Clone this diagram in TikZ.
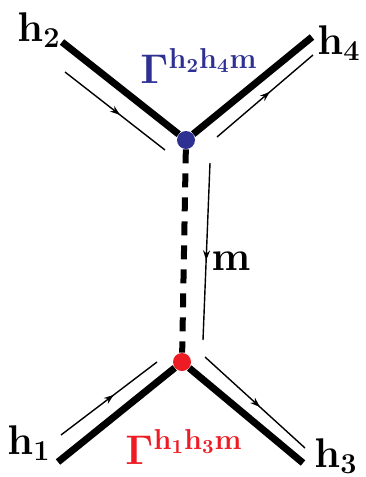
\documentclass[tikz,border=0pt]{standalone}
\usetikzlibrary{decorations.markings, arrows.meta}
\definecolor{vtxblue}{RGB}{46,49,146}
\definecolor{vtxred}{RGB}{237,28,36}
\tikzset{
% Vertex
vtx/.style={
	circle, inner sep=0pt, minimum size=9pt,
},
% External leg
leg/.style={
	line width=3.5pt,
},
% Exchanged particle
propagator/.style={
	line width=3pt, dash pattern=on 7pt off 5pt,
},
% Momentum flow
flow/.style={
	line width=0.7pt, postaction=decorate,
	decoration={markings, mark=at position 0.55 with {\arrow{Stealth[length=5pt, width=3.5pt]}}},
},
% Label
lbl/.style={
	font=\fontsize{20}{24}\selectfont, inner sep=0pt,
},
}
\begin{document}
\begin{tikzpicture}[x=0.5pt, y=-0.5pt]
		\useasboundingbox (0,0) rectangle (365,477);

		% Vertices
		\node[vtx, fill=vtxblue] (top) at (186,140) {};
		\node[vtx, fill=vtxred]  (bot) at (182,362) {};

		% Leg ends
		\coordinate (h2) at (62,42);
		\coordinate (h4) at (312,37);
		\coordinate (h1) at (58,462);
		\coordinate (h3) at (303,463);

		% Legs
		\draw[leg] (h2) -- (top);
		\draw[leg] (top) -- (h4);
		\draw[leg] (h1) -- (bot);
		\draw[leg] (bot) -- (h3);
		\draw[propagator] (top) -- (bot);

		% Flow arrows
		\coordinate (f2s) at (65,72);   \coordinate (f2e) at (165,150);
		\coordinate (f4s) at (217,137); \coordinate (f4e) at (313,55);
		\coordinate (fms) at (210,163); \coordinate (fme) at (203,340);
		\coordinate (f1s) at (61,435);  \coordinate (f1e) at (157,362);
		\coordinate (f3s) at (205,357); \coordinate (f3e) at (305,448);
		\draw[flow] (f2s) -- (f2e);
		\draw[flow] (f4s) -- (f4e);
		\draw[flow] (fms) -- (fme);
		\draw[flow] (f1s) -- (f1e);
		\draw[flow] (f3s) -- (f3e);

		% Labels
		\node[lbl] (lh2) at (39,30) {$\mathbf{h_2}$};
		\node[lbl] (lh4) at (339,43) {$\mathbf{h_4}$};
		\node[lbl] (lh1) at (29,443) {$\mathbf{h_1}$};
		\node[lbl] (lh3) at (336,456) {$\mathbf{h_3}$};
		\node[lbl] (lm) at (231,261) {$\mathbf{m}$};
		\node[lbl, text=vtxblue] (gtop) at (199,66) {$\mathbf{\Gamma^{h_2h_4m}}$};
		\node[lbl, text=vtxred] (gbot) at (184,447) {$\mathbf{\Gamma^{h_1h_3m}}$};
\end{tikzpicture}
\end{document}
